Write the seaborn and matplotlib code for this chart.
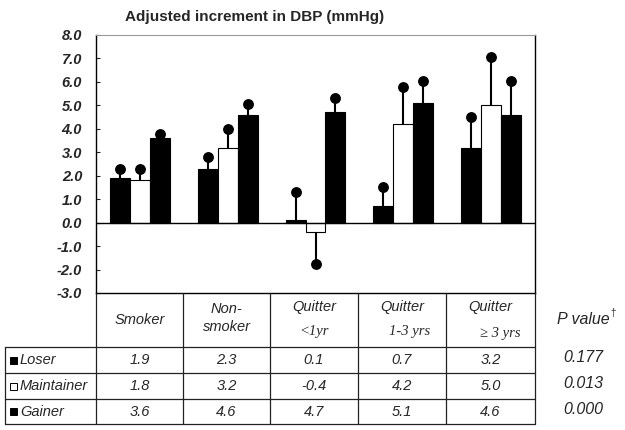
import matplotlib
matplotlib.use("Agg")
import matplotlib.pyplot as plt
import seaborn as sns
import pandas as pd
from matplotlib.patches import Rectangle

groups = ["Smoker", "Non-smoker", "Quitter <1yr", "Quitter 1-3 yrs", "Quitter >=3 yrs"]
weights = ["Loser", "Maintainer", "Gainer"]
loser = [1.9, 2.3, 0.1, 0.7, 3.2]
maintainer = [1.8, 3.2, -0.4, 4.2, 5.0]
gainer = [3.6, 4.6, 4.7, 5.1, 4.6]
# tip of the one-sided error bar
loser_tip = [2.3, 2.8, 1.3, 1.5, 4.5]
maintainer_tip = [2.3, 4.0, -1.75, 5.8, 7.05]
gainer_tip = [3.8, 5.05, 5.3, 6.05, 6.05]
p_values = ["0.177", "0.013", "0.000"]
yticks = [8, 7, 6, 5, 4, 3, 2, 1, 0, -1, -2, -3]

values = {"Loser": loser, "Maintainer": maintainer, "Gainer": gainer}
tips = {"Loser": loser_tip, "Maintainer": maintainer_tip, "Gainer": gainer_tip}

rows = []
for w in weights:
  for g, v in zip(groups, values[w]):
    rows.append({"group": g, "weight": w, "value": v})
df = pd.DataFrame(rows)

sns.set_style("white")
plt.rcParams["font.family"] = ["Liberation Sans", "DejaVu Sans"]
plt.rcParams["axes.unicode_minus"] = False

W, H = 625, 430
fig = plt.figure(figsize=(W / 100, H / 100), dpi=100)
ax = fig.add_axes([96 / W, 1 - 293 / H, (535 - 96) / W, (293 - 35) / H])

sns.barplot(data=df, x="group", y="value", hue="weight", order=groups, hue_order=weights,
            palette={"Loser": "black", "Maintainer": "white", "Gainer": "black"},
            width=0.68, edgecolor="black", linewidth=0.8, errorbar=None,
            legend=False, saturation=1, ax=ax)

# one-sided error bars with a dot at the tip
for cont, w in zip(ax.containers, weights):
  bars = sorted(cont.patches, key=lambda b: b.get_x())
  for bar, v, t in zip(bars, values[w], tips[w]):
    x = bar.get_x() + bar.get_width() / 2
    ax.plot([x, x], [v, t], color="black", lw=1.5, solid_capstyle="butt", zorder=3)
    ax.plot([x], [t], "o", color="black", ms=6.8, zorder=4)

ax.axhline(0, color="black", lw=1, zorder=2)
ax.set_ylim(-3, 8)
ax.set_xlim(-0.5, 4.5)
ax.set_yticks(yticks)
ax.set_yticklabels(["%.1f" % t for t in yticks], fontweight="bold", fontstyle="italic", fontsize=10.5)
ax.tick_params(axis="y", direction="in", length=3, pad=10, left=True)
ax.set_xticks([])
ax.set_xlabel("")
ax.set_ylabel("")
for s in ["left", "right", "bottom"]:
  ax.spines[s].set_color("black")
  ax.spines[s].set_linewidth(1)
ax.spines["top"].set_color("#999999")
ax.spines["top"].set_linewidth(0.8)

fig.text(255 / W, 1 - 17 / H, "Adjusted increment in DBP (mmHg)", ha="center", va="center",
         fontsize=11, fontweight="bold")

# table below the plot, drawn in pixel coordinates
tx = fig.add_axes([0, 0, 1, 1])
tx.set_xlim(0, W)
tx.set_ylim(H, 0)
tx.axis("off")
tx.patch.set_alpha(0)

col_edges = [96, 183, 270, 358, 446, 535]
centers = [(a + b) / 2 for a, b in zip(col_edges[:-1], col_edges[1:])]
row_lines = [293, 347, 373, 399, 424]
lc = "#222222"
for x in col_edges:
  tx.plot([x, x], [293, 424], color=lc, lw=0.9)
tx.plot([5, 5], [347, 424], color=lc, lw=0.9)
for y in row_lines[1:]:
  tx.plot([5, 535], [y, y], color=lc, lw=0.9)

it = dict(fontstyle="italic", fontsize=10.5, ha="center", va="center")
serif = dict(family=["Liberation Serif", "DejaVu Serif"], fontstyle="italic", fontsize=10.5, va="center")
tx.text(centers[0], 320, "Smoker", **it)
tx.text(centers[1], 318, "Non-\nsmoker", linespacing=1.3, **it)
tx.text(centers[2], 307, "Quitter", **it)
tx.text(centers[2], 332, "<1yr", ha="center", **serif)
tx.text(centers[3], 307, "Quitter", **it)
tx.text(centers[3] + 8, 332, "1-3 yrs", ha="center", **serif)
tx.text(centers[4], 307, "Quitter", **it)
tx.text(centers[4] + 10, 334, "\u2265 3 yrs", ha="center", **serif)

pt = tx.text(583, 320, "P value", fontstyle="italic", fontsize=11.5, ha="center", va="center")
tx.annotate("\u2020", xy=(1, 1), xycoords=pt, xytext=(0.5, 3), textcoords="offset points",
            fontsize=7, ha="left", va="top")

row_mid = [(a + b) / 2 for a, b in zip(row_lines[1:-1], row_lines[2:])]
fills = {"Loser": "black", "Maintainer": "white", "Gainer": "black"}
for ym, w, p in zip(row_mid, weights, p_values):
  tx.add_patch(Rectangle((10, ym - 3.5), 7, 7, facecolor=fills[w], edgecolor="black", lw=0.7))
  tx.text(20, ym, w, fontstyle="italic", fontsize=10.5, ha="left", va="center")
  for c, v in zip(centers, values[w]):
    tx.text(c, ym, "%.1f" % v, **it)
  tx.text(583, ym - 2, p, fontstyle="italic", fontsize=11.5, ha="center", va="center")

fig.savefig("out.png", dpi=100)
